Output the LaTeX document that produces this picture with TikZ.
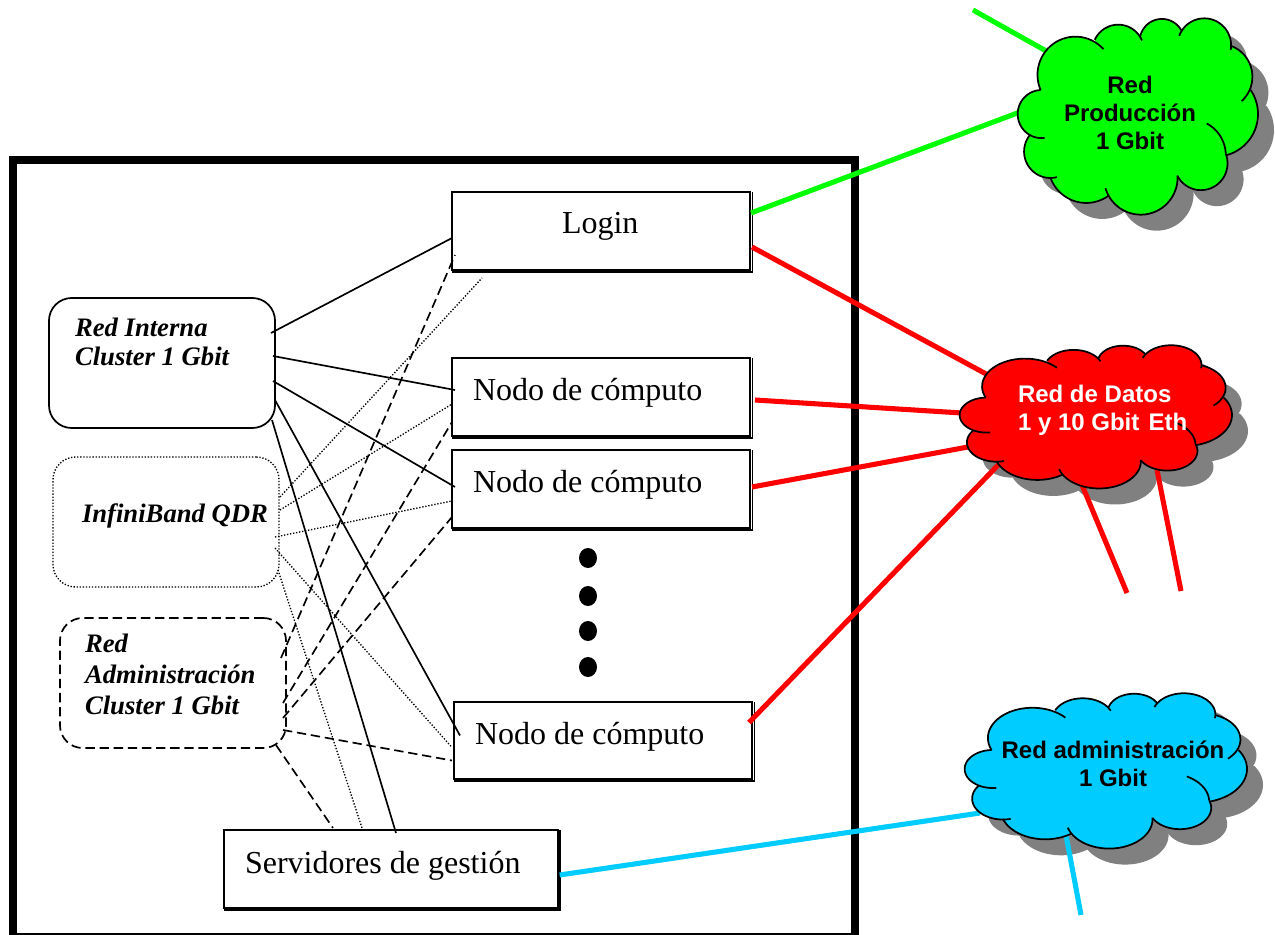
\documentclass[tikz,border=0pt]{standalone}
\usepackage{fontspec}
\setmainfont{Liberation Serif}
\newfontfamily\arialf{Liberation Sans}
\usetikzlibrary{calc,shapes.geometric}
\definecolor{cgreen}{HTML}{00FF00}
\definecolor{cred}{HTML}{FF0000}
\definecolor{cblue}{HTML}{00CCFF}
\definecolor{cshadow}{HTML}{808080}
\tikzset{
  boxnode/.style={draw=black,line width=1.3pt,fill=white,rectangle,inner sep=0pt,outer sep=0pt},
  netbox/.style={draw=black,line width=1.3pt,rectangle,rounded corners=17pt,inner sep=0pt,outer sep=0pt,minimum width=169.5pt,minimum height=97.5pt},
  serifl/.style={inner sep=0pt,outer sep=0pt,anchor=base west,font=\fontsize{24pt}{28pt}\selectfont},
  netl/.style={inner sep=0pt,outer sep=0pt,anchor=base west,align=left,font=\fontsize{20pt}{23pt}\selectfont\bfseries\itshape},
  cloudl/.style={inner sep=0pt,outer sep=0pt,anchor=base,align=center,font=\arialf\bfseries\fontsize{18pt}{21pt}\selectfont},
  thinl/.style={line width=1.25pt,black},
  dashl/.style={line width=1.25pt,black,dash pattern=on 7pt off 3.6pt},
  dotl/.style={line width=1pt,black,dash pattern=on 1pt off 1.3pt},
  fatl/.style={line width=3.8pt},
  dotnode/.style={ellipse,fill=black,inner sep=0pt,outer sep=0pt,minimum width=13.5pt,minimum height=15pt}
}
\newcommand\lobes{243/270/330/112/432/148,406/120/480/75/548/122,543/108/603/58/668/95,660/108/735/56/815/150,815/138/880/225/848/303,875/270/897/340/800/465,743/370/785/410/800/460,800/460/750/565/655/527,655/525/550/642/438/563,448/585/350/603/272/530,292/530/195/470/210/405,255/413/175/330/243/270}
% circle through three points; leaves \lobecx \lobecy \lobeR \lobea \lobeb
\newcommand\lobecalc[6]{%
  \pgfmathsetmacro\bx{(#3-#1)/100}\pgfmathsetmacro\by{(#4-#2)/100}%
  \pgfmathsetmacro\qx{(#5-#1)/100}\pgfmathsetmacro\qy{(#6-#2)/100}%
  \pgfmathsetmacro\dd{2*(\bx*\qy-\by*\qx)}%
  \pgfmathsetmacro\ss{\bx*\bx+\by*\by}\pgfmathsetmacro\tt{\qx*\qx+\qy*\qy}%
  \pgfmathsetmacro\ux{(\qy*\ss-\by*\tt)/\dd}\pgfmathsetmacro\uy{(\bx*\tt-\qx*\ss)/\dd}%
  \pgfmathsetmacro\lobecx{#1+100*\ux}\pgfmathsetmacro\lobecy{#2+100*\uy}%
  \pgfmathsetmacro\lobeR{100*sqrt(\ux*\ux+\uy*\uy)}%
  \pgfmathsetmacro\lobea{atan2(-\uy,-\ux)}%
  \pgfmathsetmacro\lobeb{atan2(\qy-\uy,\qx-\ux)}%
  \pgfmathsetmacro\lobeb{\lobeb<\lobea?\lobeb+360:\lobeb}}
\newcommand\cloudbody{%
  \fill (243,270)--(432,148)--(406,120)--(548,122)--(543,108)--(668,95)--(660,108)--(815,150)--(815,138)--(848,303)--(875,270)--(800,460)--(655,527)--(655,525)--(438,563)--(448,585)--(272,530)--(292,530)--(210,405)--(255,413)--cycle;
  \foreach \a/\b/\c/\d/\e/\f in \lobes {
    \lobecalc{\a}{\b}{\c}{\d}{\e}{\f}
    \fill plot[domain=0:1,samples=30,variable=\t] ({\lobecx+\lobeR*cos(\lobea+\t*(\lobeb-\lobea))},{\lobecy+\lobeR*sin(\lobea+\t*(\lobeb-\lobea))}) -- (520,340) -- cycle;
  }}
\newcommand\cloudlines{%
  \foreach \a/\b/\c/\d/\e/\f in \lobes {
    \lobecalc{\a}{\b}{\c}{\d}{\e}{\f}
    \draw[line width=1.3pt,black,line join=round] plot[domain=0:1,samples=30,variable=\t] ({\lobecx+\lobeR*cos(\lobea+\t*(\lobeb-\lobea))},{\lobecy+\lobeR*sin(\lobea+\t*(\lobeb-\lobea))});
  }}
% #1 left px, #2 top px, #3 x scale, #4 y scale, #5 body
\newcommand\cloudat[5]{%
  \begin{scope}[shift={(#1,#2)},x=#3*0.75pt,y=-#4*0.75pt,shift={(-175,-55)}]#5\end{scope}}
\newcommand\boxedge[1]{%
  \draw[line width=1.3pt,black] ([shift={(2.4,0)}]#1.north east) -- ([shift={(2.4,2)}]#1.south east) -- ([shift={(0,2)}]#1.south west);}
\begin{document}
\begin{tikzpicture}[x=0.75pt,y=-0.75pt]
\useasboundingbox (0,0) rectangle (1275,935);
% frame
\coordinate (ftl) at (13,160);
\coordinate (fbr) at (855,937);
\draw[line width=6pt,black] (ftl) rectangle (fbr);
% boxes
\node[boxnode,minimum width=223.5pt,minimum height=58.5pt] (login) at (601,231) {};
\node[boxnode,minimum width=223.5pt,minimum height=58.5pt] (nodoa) at (601,397) {};
\node[boxnode,minimum width=223.5pt,minimum height=58.5pt] (nodob) at (601,489) {};
\node[boxnode,minimum width=223.5pt,minimum height=58pt] (nodoc) at (603,740.5) {};
\node[boxnode,minimum width=250pt,minimum height=58.5pt] (serv) at (391,869) {};
\boxedge{login}\boxedge{nodoa}\boxedge{nodob}\boxedge{nodoc}\boxedge{serv}
% network boxes
\node[netbox] (interna) at (162,363) {};
\node[netbox,line width=1pt,dash pattern=on 1pt off 1.3pt] (infini) at (166,522) {};
\node[netbox,dash pattern=on 7pt off 3.6pt] (admin) at (173,683) {};
% cloud anchors
\coordinate (cverde) at (1130,120);
\coordinate (crojo) at (1100,420);
\coordinate (cazul) at (1105,770);
\coordinate (freea) at (973,10);
\coordinate (freeb) at (1127,593);
\coordinate (freec) at (1181,591);
\coordinate (freed) at (1081,915);
% shadows
\begin{scope}[cshadow]
\cloudat{1034}{34}{0.3324}{0.3350}{\cloudbody}
\cloudat{976}{361}{0.3767}{0.2444}{\cloudbody}
\cloudat{981}{709}{0.3906}{0.2650}{\cloudbody}
\end{scope}
% coloured links
\draw[fatl,cgreen] (freea) -- ($(cverde)+(-82,-68)$);
\draw[fatl,cgreen] ($(login.east)+(1,-18)$) -- ($(cverde)+(-110,-8)$);
\draw[fatl,cred] ($(login.east)+(2,16)$) -- ($(crojo)+(-112,-45)$);
\draw[fatl,cred] ($(nodoa.east)+(5,3)$) -- ($(crojo)+(-138,-7)$);
\draw[fatl,cred] ($(nodob.east)+(2,-2)$) -- ($(crojo)+(-132,27)$);
\draw[fatl,cred] ($(nodoc.east)+(-3,-18)$) -- ($(crojo)+(-97,40)$);
\draw[fatl,cred] ($(crojo)+(-18,65)$) -- (freeb);
\draw[fatl,cred] ($(crojo)+(57,50)$) -- (freec);
\draw[fatl,cblue] ($(serv.east)+(2,6)$) -- ($(cazul)+(-125,43)$);
\draw[fatl,cblue] ($(cazul)+(-39,65)$) -- (freed);
% clouds
\begin{scope}[cgreen]
\cloudat{1018}{18}{0.3324}{0.3350}{\cloudbody}
\end{scope}
\cloudat{1018}{18}{0.3324}{0.3350}{\cloudlines}
\begin{scope}[cred]
\cloudat{960}{345}{0.3767}{0.2444}{\cloudbody}
\end{scope}
\cloudat{960}{345}{0.3767}{0.2444}{\cloudlines}
\begin{scope}[cblue]
\cloudat{965}{693}{0.3906}{0.2650}{\cloudbody}
\end{scope}
\cloudat{965}{693}{0.3906}{0.2650}{\cloudlines}
% thin links
\draw[thinl] ($(interna.east)+(-4,-30)$) -- ($(login.west)+(0,7)$);
\draw[thinl] ($(interna.east)+(-2,-7)$) -- ($(nodoa.west)+(3,-7)$);
\draw[thinl] ($(interna.east)+(-2,18)$) -- ($(nodob.west)+(3,-2)$);
\draw[thinl] ($(interna.east)+(0,37)$) -- ($(nodoc.west)+(6,-5)$);
\draw[thinl] ($(interna.east)+(-3,57)$) -- ($(serv.north)+(5,3)$);
\draw[dotl] ($(infini.east)+(1,-25)$) -- ($(login.south west)+(30,8)$);
\draw[dotl] ($(infini.east)+(1,-12)$) -- ($(nodoa.west)+(0,7)$);
\draw[dotl] ($(infini.east)+(-4,15)$) -- ($(nodob.west)+(0,12)$);
\draw[dotl] ($(infini.east)+(-4,26)$) -- ($(nodoc.west)+(-2,7)$);
\draw[dotl] ($(infini.east)+(-1,48)$) -- ($(serv.north)+(-29,-2)$);
\draw[dashl] ($(admin.east)+(-5,-25)$) -- ($(login.west)+(3,24)$);
\draw[dashl] ($(admin.east)+(-3,20)$) -- ($(nodoa.west)+(0,25)$);
\draw[dashl] ($(admin.east)+(-3,35)$) -- ($(nodob.west)+(0,28)$);
\draw[dashl] ($(admin.east)+(-3,47)$) -- ($(nodoc.west)+(-2,20)$);
\draw[dashl] ($(admin.east)+(-10,62)$) -- ($(serv.north)+(-58,-2)$);
% dots
\node[dotnode] (da) at (588,558) {};
\node[dotnode] (db) at (588,596) {};
\node[dotnode] (dc) at (588,631) {};
\node[dotnode] (dd) at (588,667) {};
% texts
\node[serifl] (tlogin) at (562,233) {Login};
\node[serifl] (tnodoa) at (473,400) {Nodo de cómputo};
\node[serifl] (tnodob) at (473,492) {Nodo de cómputo};
\node[serifl] (tnodoc) at (475,744) {Nodo de cómputo};
\node[serifl] (tserv) at (245,873) {Servidores de gestión};
\node[netl] (tinterna) at (75,365) {Red Interna\\[-1.5pt]Cluster 1 Gbit};
\node[netl] (tinfini) at (82,522) {InfiniBand QDR};
\node[netl] (tadmin) at (85,714) {Red\\Administración\\Cluster 1 Gbit};
\node[cloudl] (tverde) at (1130,149) {Red\\Producción\\1 Gbit};
\node[cloudl,anchor=base west,align=left,text=white] (trojo) at (1018,430) {Red de Datos\\1 y 10 Gbit \kern2pt Eth};
\node[cloudl] (tazul) at (1113,786) {Red administración\\1 Gbit};
\end{tikzpicture}
\end{document}
